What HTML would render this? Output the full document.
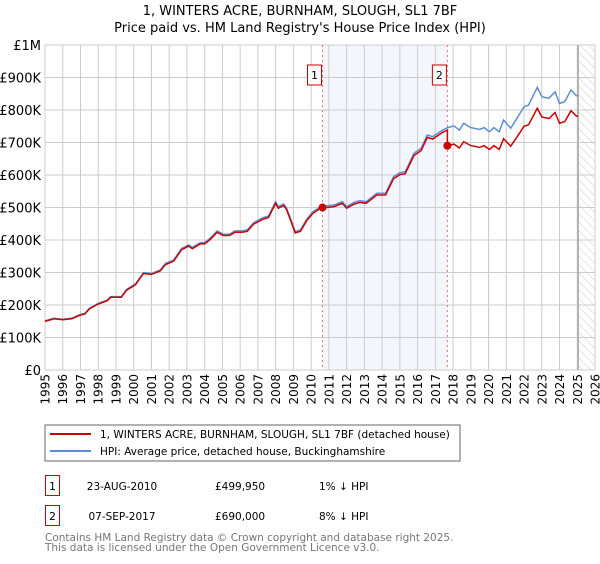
<!DOCTYPE html>
<html><head><meta charset="utf-8"><style>
body{margin:0;background:#fff;font-family:"DejaVu Sans","Liberation Sans",sans-serif;}
svg text{font-family:"DejaVu Sans","Liberation Sans",sans-serif;}
</style></head><body>
<svg id="c" width="600" height="560" xmlns="http://www.w3.org/2000/svg">
<defs><pattern id="hatch" width="6" height="6" patternUnits="userSpaceOnUse" patternTransform="rotate(-45)"><line x1="0" y1="0" x2="0" y2="6" stroke="#ccc" stroke-width="1"/></pattern></defs>
<text x="300" y="15" text-anchor="middle" font-size="13">1, WINTERS ACRE, BURNHAM, SLOUGH, SL1 7BF</text>
<text x="300" y="32" text-anchor="middle" font-size="13">Price paid vs. HM Land Registry's House Price Index (HPI)</text>
<g id="grid"></g><g id="marks"></g><g id="axes"></g>
<rect x="45" y="425" width="415" height="36" fill="#fff" stroke="#666"/>
<line x1="50" y1="434" x2="91" y2="434" stroke="#cc0000" stroke-width="2"/>
<text x="100" y="438" font-size="10.5">1, WINTERS ACRE, BURNHAM, SLOUGH, SL1 7BF (detached house)</text>
<line x1="50" y1="451" x2="91" y2="451" stroke="#5b8fd4" stroke-width="2"/>
<text x="100" y="455" font-size="10.5">HPI: Average price, detached house, Buckinghamshire</text>
<g>
<rect x="45.5" y="475.5" width="14" height="20" fill="none" stroke="#c00"/><text x="52.5" y="490" text-anchor="middle" font-size="11">1</text>
<text x="122" y="490" text-anchor="middle" font-size="10.5">23-AUG-2010</text>
<text x="215" y="490" font-size="10.5">£499,950</text>
<text x="319" y="490" font-size="10.5">1% ↓ HPI</text></g>
<g>
<rect x="45.5" y="505.5" width="14" height="20" fill="none" stroke="#c00"/><text x="52.5" y="520" text-anchor="middle" font-size="11">2</text>
<text x="122" y="520" text-anchor="middle" font-size="10.5">07-SEP-2017</text>
<text x="215" y="520" font-size="10.5">£690,000</text>
<text x="319" y="520" font-size="10.5">8% ↓ HPI</text></g>
<text x="45" y="541" font-size="10.5" fill="#777">Contains HM Land Registry data © Crown copyright and database right 2025.</text>
<text x="45" y="551" font-size="10.5" fill="#777">This data is licensed under the Open Government Licence v3.0.</text>
</svg>
<script>
const hpiYears=[1995.0,1995.5,1996.0,1996.5,1997.0,1997.25,1997.5,1998.0,1998.5,1998.7,1999.3,1999.6,2000.1,2000.55,2001.0,2001.5,2001.8,2002.25,2002.7,2003.1,2003.3,2003.75,2004.0,2004.3,2004.7,2005.05,2005.4,2005.7,2006.1,2006.4,2006.75,2007.3,2007.6,2008.0,2008.15,2008.45,2008.6,2008.8,2009.1,2009.4,2009.75,2010.1,2010.6,2010.9,2011.3,2011.75,2012.0,2012.4,2012.75,2013.1,2013.7,2014.2,2014.65,2015.0,2015.3,2015.8,2016.2,2016.55,2016.85,2017.4,2017.7,2018.05,2018.35,2018.6,2019.0,2019.5,2019.75,2020.05,2020.3,2020.6,2020.85,2021.25,2021.6,2022.0,2022.25,2022.75,2023.0,2023.4,2023.75,2024.0,2024.3,2024.65,2024.95,2025.05];
const hpiValues=[151,159,156,159,171,174,190,205,215,226,226,248,265,300,297,308,328,338,374,385,377,392,392,405,428,418,418,428,428,431,453,469,474,518,503,511,500,472,426,431,464,487,505,505,508,518,503,515,521,518,544,544,595,607,610,667,682,723,718,738,746,751,738,759,746,740,746,733,746,733,769,744,774,810,815,870,841,836,856,820,826,862,844,844];
const saleYears=[2010.64,2017.68];
const salePrices=[499.95,690];
const yTicks=[0,100,200,300,400,500,600,700,800,900,1000];
const yTickLabels=["£0","£100K","£200K","£300K","£400K","£500K","£600K","£700K","£800K","£900K","£1M"];
const xTicks=[1995,1996,1997,1998,1999,2000,2001,2002,2003,2004,2005,2006,2007,2008,2009,2010,2011,2012,2013,2014,2015,2016,2017,2018,2019,2020,2021,2022,2023,2024,2025,2026];
const X0=45,X1=595,Y0=370,Y1=45;
const x=y=>X0+(y-1995)/31*(X1-X0);
const yv=v=>Y0-v/1000*(Y0-Y1);
const NS="http://www.w3.org/2000/svg";
function mk(t,a,p){const e=document.createElementNS(NS,t);for(const k in a)e.setAttribute(k,a[k]);p.appendChild(e);return e;}
const grid=document.getElementById('grid'),marks=document.getElementById('marks'),axes=document.getElementById('axes');
const sh=mk('rect',{x:x(saleYears[0]),y:Y1,width:x(saleYears[1])-x(saleYears[0]),height:Y0-Y1,fill:'#eef2fc',opacity:0.7},grid);


const lastYear=hpiYears[hpiYears.length-1];
const ht=mk('rect',{x:x(lastYear),y:Y1,width:X1-x(lastYear),height:Y0-Y1,fill:'url(#hatch)'},grid);


yTicks.forEach((v,i)=>{
 const l=mk('line',{x1:X0,x2:X1,y1:yv(v),y2:yv(v),stroke:'#ccc'},grid);
 
 
 const t=mk('text',{x:X0-4,y:yv(v)+5,'text-anchor':'end','font-size':13},axes);t.textContent=yTickLabels[i];
 
 
});
xTicks.forEach(yr=>{
 const l=mk('line',{x1:x(yr),x2:x(yr),y1:Y1,y2:Y0,stroke:'#ccc'},grid);
 
 
 const t=mk('text',{x:0,y:0,'text-anchor':'end','font-size':12,transform:`translate(${x(yr)+4.5},${Y0+4}) rotate(-90)`},axes);t.textContent=yr;
 
 
});
const vl=mk('line',{x1:x(lastYear),x2:x(lastYear),y1:Y1,y2:Y0,stroke:'#999','stroke-width':1.2},grid);


function interp(t){for(let i=1;i<hpiYears.length;i++){if(t<=hpiYears[i]){const f=(t-hpiYears[i-1])/(hpiYears[i]-hpiYears[i-1]);return hpiValues[i-1]+f*(hpiValues[i]-hpiValues[i-1]);}}return hpiValues[hpiValues.length-1];}
saleYears.forEach((s,i)=>{
 const l=mk('line',{x1:x(s),x2:x(s),y1:Y1,y2:Y0,stroke:'#f07070','stroke-dasharray':'2,3'},grid);
 
 
 const g=mk('g',{},marks);
 
 
 mk('rect',{x:x(s)-15,y:65,width:14,height:20,fill:'#fff',stroke:'#c00'},g);
 const t=mk('text',{x:x(s)-8,y:79,'text-anchor':'middle','font-size':11},g);t.textContent=i+1;
});
let d='';hpiYears.forEach((t,i)=>{d+=(i?'L':'M')+x(t).toFixed(1)+','+yv(hpiValues[i]).toFixed(1);});
const hp=mk('path',{d,fill:'none',stroke:'#5b8fd4','stroke-width':1.5},marks);


const r0=salePrices[0]/interp(saleYears[0]), r1=salePrices[1]/interp(saleYears[1]);
let pts=[];
hpiYears.forEach((t,i)=>{if(t<saleYears[1])pts.push([t,hpiValues[i]*r0]);});
pts.push([saleYears[1],interp(saleYears[1])*r0]);pts.push([saleYears[1],salePrices[1]]);
hpiYears.forEach((t,i)=>{if(t>saleYears[1])pts.push([t,hpiValues[i]*r1]);});
let d2='';pts.forEach((p,i)=>{d2+=(i?'L':'M')+x(p[0]).toFixed(1)+','+yv(p[1]).toFixed(1);});
const pp=mk('path',{d:d2,fill:'none',stroke:'#cc0000','stroke-width':1.5},marks);


saleYears.forEach((s,i)=>{
 const c=mk('circle',{cx:x(s),cy:yv(salePrices[i]),r:4,fill:'#cc0000'},marks);
 
 
});
</script>
</body></html>
